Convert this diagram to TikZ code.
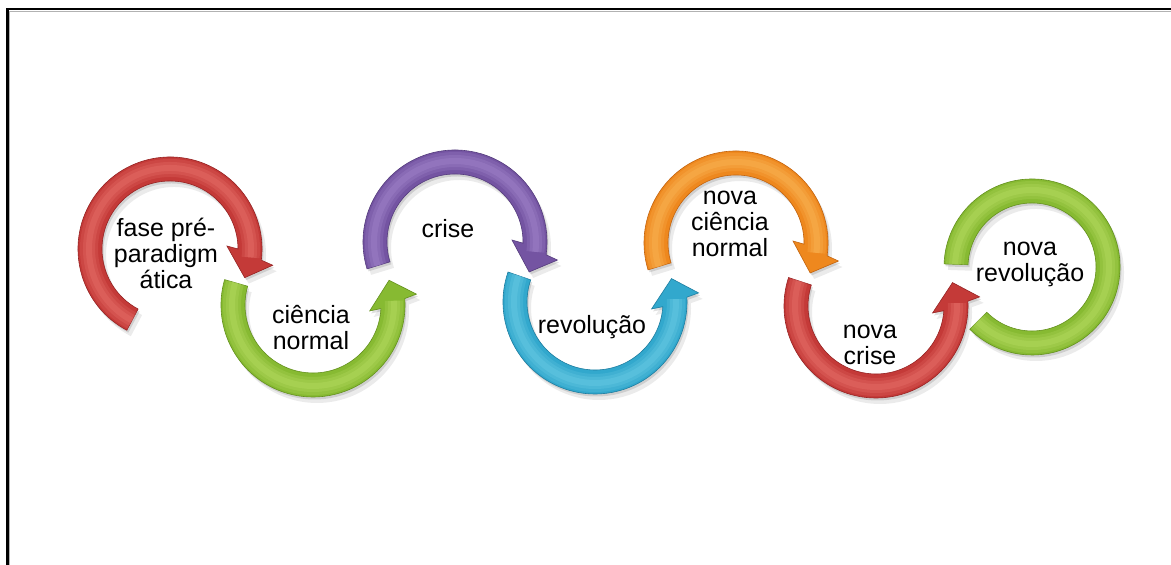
\documentclass[tikz,border=0pt]{standalone}
\usepackage{fontspec}
\setmainfont{Liberation Sans}
\definecolor{redM}{RGB}{196,58,56}
\definecolor{redL}{RGB}{236,120,115}
\definecolor{redD}{RGB}{150,35,35}
\definecolor{greenM}{RGB}{135,186,50}
\definecolor{greenL}{RGB}{190,225,105}
\definecolor{greenD}{RGB}{100,145,30}
\definecolor{purpleM}{RGB}{116,84,162}
\definecolor{purpleL}{RGB}{170,140,210}
\definecolor{purpleD}{RGB}{85,60,125}
\definecolor{cyanM}{RGB}{50,168,205}
\definecolor{cyanL}{RGB}{115,208,232}
\definecolor{cyanD}{RGB}{30,125,160}
\definecolor{orangeM}{RGB}{238,136,30}
\definecolor{orangeL}{RGB}{252,188,95}
\definecolor{orangeD}{RGB}{195,100,15}

% soft rounded light band along the middle of a ring segment
\newcommand\bandlight[4]{% start angle, end angle, radius, colour
  \draw[#4, line width=0.18cm, opacity=0.22] (#1:#3) arc[start angle=#1, end angle=#2, radius=#3];
  \draw[#4, line width=0.12cm, opacity=0.25] (#1:#3) arc[start angle=#1, end angle=#2, radius=#3];
  \draw[#4, line width=0.06cm, opacity=0.30] (#1:#3) arc[start angle=#1, end angle=#2, radius=#3];}

% curved block arrow: centre x, centre y, tail angle, tip angle, direction (+1 ccw, -1 cw), colour prefix
\newcommand\cyclearrow[6]{%
  \begin{scope}[shift={(#1,#2)}]
    \pgfmathsetmacro\caOut{#4-14*(#5)}
    \pgfmathsetmacro\caBarbO{#4-12*(#5)}
    \pgfmathsetmacro\caBarbI{#4-24*(#5)}
    \pgfmathsetmacro\caIn{#4-21*(#5)}
    \pgfmathsetmacro\caHi{#4-15*(#5)}
    \def\caPath{(#3:92) arc[start angle=#3, end angle=\caOut, radius=92]
      -- (\caBarbO:104) -- (#4:80) -- (\caBarbI:57) -- (\caIn:68)
      arc[start angle=\caIn, end angle=#3, radius=68] -- cycle}
    \fill[black, opacity=0.08, shift={(4,-6)}] \caPath;
    \fill[black, opacity=0.12, shift={(1.5,-2.5)}] \caPath;
    \fill[#6M, draw=#6D, line width=0.006cm] \caPath;
    \bandlight{#3}{\caHi}{81}{#6L}
  \end{scope}}

\begin{document}
\begin{tikzpicture}[x=0.01cm, y=0.01cm,
  steplabel/.style={inner sep=0pt, align=center, text=black,
    font=\fontsize{7.1pt}{7.4pt}\selectfont}]
\useasboundingbox (0,0) rectangle (1171,565);

% frame (top and left edges)
\draw[gray!60, line width=0.012cm] (9.5,553.5) -- (1171,553.5);
\draw[gray!60, line width=0.012cm] (9.5,553.5) -- (9.5,0);
\draw[black, line width=0.02cm] (7.5,555.5) -- (1171,555.5);
\draw[black, line width=0.02cm] (7.5,556.5) -- (7.5,0);

% cycle of arrows
\cyclearrow{170}{316}{242}{-21}{-1}{red}
\cyclearrow{313}{260}{164}{378}{1}{green}
\cyclearrow{455}{323}{197}{-22}{-1}{purple}
\cyclearrow{595}{263}{161}{377}{1}{cyan}
\cyclearrow{736}{322}{197}{-22}{-1}{orange}
\cyclearrow{876}{259}{162}{377}{1}{red}

% closing open ring
\begin{scope}[shift={(1032,298)}]
  \def\ringPath{(178:88) arc[start angle=178, end angle=-135, radius=88]
    -- (-135:64) arc[start angle=-135, end angle=178, radius=64] -- cycle}
  \fill[black, opacity=0.08, shift={(4,-6)}] \ringPath;
  \fill[black, opacity=0.12, shift={(1.5,-2.5)}] \ringPath;
  \fill[greenM, draw=greenD, line width=0.006cm] \ringPath;
  \bandlight{178}{-135}{77}{greenL}
\end{scope}

% stage labels
\node[steplabel] (fase) at (166,312) {fase pré-\\paradigm\\ática};
\node[steplabel] (normal) at (311,237) {ciência\\normal};
\node[steplabel] (crise) at (448,336) {crise};
\node[steplabel] (revol) at (592,238) {revolução};
\node[steplabel] (novanormal) at (730,341) {nova\\ciência\\normal};
\node[steplabel] (novacrise) at (870,220) {nova\\crise};
\node[steplabel] (novarevol) at (1030,301) {nova\\revolução};
\end{tikzpicture}
\end{document}
